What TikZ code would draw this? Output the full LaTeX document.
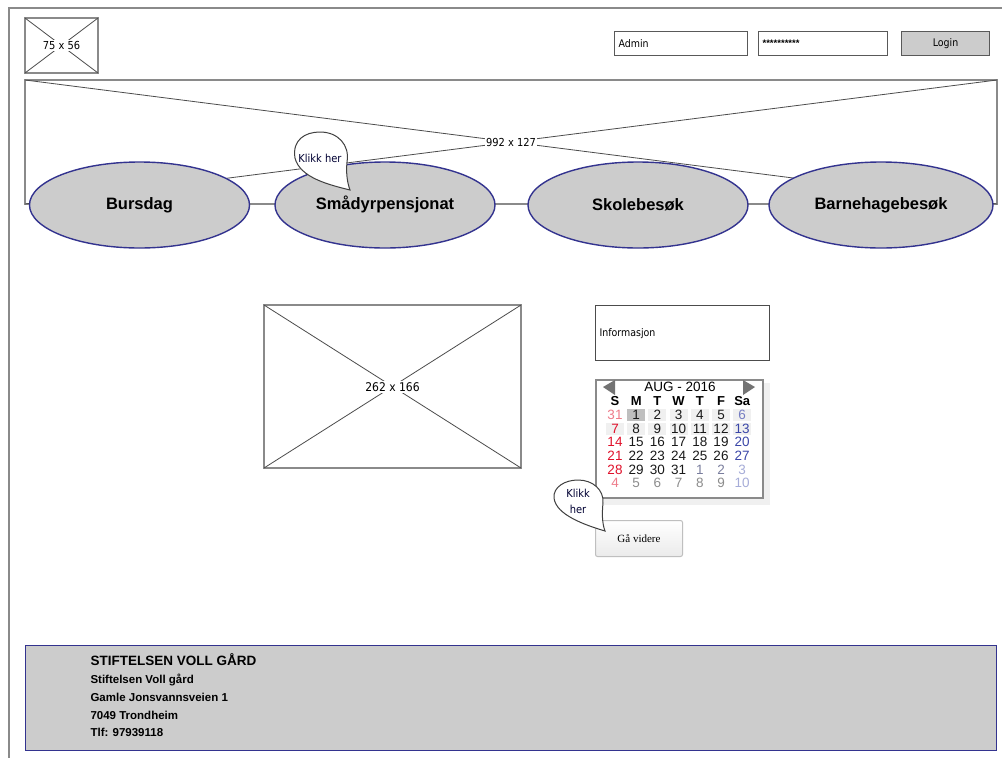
\documentclass[tikz,border=0pt]{standalone}
\usepackage{fontspec}
\usetikzlibrary{shapes.geometric}
\setmainfont{Liberation Sans}
\newfontfamily\serifface{Liberation Serif}
\newfontfamily\handface{DejaVu Sans Condensed}
\definecolor{frame}{HTML}{8A8A8A}
\definecolor{navy}{HTML}{33338F}
\definecolor{fillgray}{HTML}{CCCCCC}
\definecolor{sun}{HTML}{E0102A}
\definecolor{sat}{HTML}{3A46A8}
\begin{document}
\begin{tikzpicture}[x=1pt,y=-1pt,
  placeholder/.style={draw=frame, line width=1.2pt},
  xline/.style={draw=black!70, line width=0.8pt},
  dimlabel/.style={fill=white, inner sep=1pt, font=\handface\fontsize{11}{12}\selectfont},
  inputbox/.style={draw=black!65, line width=1.2pt, fill=white},
  menu/.style={ellipse, draw=navy, line width=1.4pt, fill=fillgray, inner sep=0pt,
    minimum width=220pt, minimum height=86pt, font=\bfseries\fontsize{16.5}{18}\selectfont},
  bubble/.style={draw=black!75, line width=1pt, fill=white},
  hint/.style={font=\handface\fontsize{11}{12}\selectfont, text=black!80!blue},
  calhead/.style={font=\bfseries\fontsize{13}{14}\selectfont, anchor=center},
  calday/.style={font=\fontsize{13.5}{14}\selectfont, anchor=center},
  footline/.style={anchor=west, font=\bfseries\fontsize{11.5}{12}\selectfont}]
\useasboundingbox (0,0) rectangle (1002,758);
\fill[white] (0,0) rectangle (1002,758);

% page frame
\draw[frame, line width=1.5pt] (9,770) -- (9,8) -- (1010,8);

% logo placeholder
\draw[placeholder] (25,18) rectangle (98,73);
\draw[xline] (25,18) -- (98,73) (98,18) -- (25,73);
\node[dimlabel] (logo) at (61.5,45.5) {75 x 56};

% login fields
\node[inputbox, minimum width=133pt, minimum height=24pt, anchor=north west,
  text width=125pt, align=left, font=\handface\fontsize{10.5}{12}\selectfont] (user) at (614,31) {Admin};
\node[inputbox, minimum width=129pt, minimum height=24pt, anchor=north west,
  text width=121pt, align=left, font=\bfseries\fontsize{9.5}{10}\selectfont] (pass) at (758,31) {**********};
\node[draw=black!65, line width=1.2pt, fill=fillgray, minimum width=88pt, minimum height=24pt,
  anchor=north west, font=\handface\fontsize{10.5}{12}\selectfont] (login) at (901,31) {Login};

% banner placeholder
\coordinate (bnw) at (25,80);
\coordinate (bne) at (997,80);
\coordinate (bsw) at (25,204);
\coordinate (bse) at (997,204);
\draw[placeholder] (bsw) -- (bnw) -- (bne) -- (bse) -- cycle;
\draw[xline] (bnw) -- (bse) (bne) -- (bsw);
\node[dimlabel] (banner) at (511,142) {992 x 127};

% menu buttons
\node[menu] (bursdag) at (139.5,205) {Bursdag};
\node[menu] (smaa) at (385,205) {\raisebox{5pt}{Smådyrpensjonat}};
\node[menu] (skole) at (638,205) {Skolebesøk};
\node[menu, minimum width=224pt] (barnehage) at (881,205) {Barnehagebesøk};

% hint bubble on the menu
\path[bubble] (350,190) .. controls (330,185) and (300,178) .. (295,158)
  .. controls (292,140) and (305,132) .. (320,132)
  .. controls (338,132) and (350,145) .. (347,162)
  .. controls (346,172) and (347,182) .. (350,190) -- cycle;
\node[hint] (hint1) at (320,158) {Klikk her};

% picture placeholder
\draw[placeholder] (264,305) rectangle (521,468);
\draw[xline] (264,305) -- (521,468) (521,305) -- (264,468);
\node[dimlabel, font=\handface\fontsize{12}{13}\selectfont] (pic) at (392.5,387) {262 x 166};

% information box
\node[draw=black!70, line width=1.2pt, minimum width=174pt, minimum height=55pt, anchor=north west,
  text width=166pt, align=left, font=\handface\fontsize{10.5}{12}\selectfont] (info) at (595,305) {Informasjon};

% calendar
\fill[black!12] (600,384) rectangle (768,503);
\fill[black!6] (599,383) rectangle (770,505);
\fill[white] (596,380) rectangle (763,498);
\foreach \c in {1,...,6} {\fill[black!6] ({615+21.2*\c-9},409) rectangle ({615+21.2*\c+9},421);}
\foreach \c in {0,...,6} {\fill[black!6] ({615+21.2*\c-9},423) rectangle ({615+21.2*\c+9},435);}
\fill[black!25] (627,409) rectangle (645,421);
\draw[frame, line width=2pt] (596,380) rectangle (763,498);
\fill[black!55] (603,387) -- (615,380) -- (615,395) -- cycle;
\fill[black!55] (755,387) -- (743,380) -- (743,395) -- cycle;
\node[font=\fontsize{13.5}{14}\selectfont] (month) at (680,387) {AUG - 2016};
\foreach \d [count=\i from 0] in {S,M,T,W,T,F,Sa}
  \node[calhead] at ({615+21.2*\i},401) {\d};
\foreach \r/\row in {0/{31,1,2,3,4,5,6},1/{7,8,9,10,11,12,13},2/{14,15,16,17,18,19,20},
    3/{21,22,23,24,25,26,27},4/{28,29,30,31,1,2,3},5/{4,5,6,7,8,9,10}} {
  \foreach \n [count=\i from 0] in \row {
    \pgfmathsetmacro{\cx}{615+21.2*\i}
    \pgfmathsetmacro{\cy}{415+13.6*\r}
    \def\col{black!90}
    \ifnum\i=0 \def\col{sun}\fi
    \ifnum\i=6 \def\col{sat}\fi
    \ifnum\r=0 \ifnum\i=0 \def\col{sun!55}\fi \ifnum\i=6 \def\col{sat!70}\fi \fi
    \ifnum\r=4 \ifnum\i>3 \def\col{black!45!sat!60}\fi \ifnum\i=6 \def\col{sat!45}\fi \fi
    \ifnum\r=5 \def\col{black!45}\ifnum\i=0 \def\col{sun!55}\fi \ifnum\i=6 \def\col{sat!45}\fi \fi
    \node[calday, text=\col] at (\cx,\cy) {\n};
  }
}

% continue button
\node[draw=black!25, line width=1pt, rounded corners=2pt, top color=white, bottom color=black!8,
  minimum width=87pt, minimum height=36pt, anchor=north west,
  font=\serifface\fontsize{11}{12}\selectfont] (next) at (595,520) {Gå videre};

% hint bubble on the button
\path[bubble] (605,531) .. controls (585,525) and (556,515) .. (554,498)
  .. controls (553,487) and (565,480) .. (578,480)
  .. controls (593,480) and (604,490) .. (603,503)
  .. controls (602,513) and (602,523) .. (605,531) -- cycle;
\node[hint, align=center, font=\handface\fontsize{11}{16}\selectfont] (hint2) at (578,501) {Klikk\\her};

% footer
\node[draw=navy, line width=1.4pt, fill=fillgray, minimum width=971pt, minimum height=105pt,
  anchor=north west] (footer) at (25,645) {};
\node[footline, font=\bfseries\fontsize{13.5}{14}\selectfont] (org) at (87,660) {STIFTELSEN VOLL GÅRD};
\node[footline] (name) at (87,680) {Stiftelsen Voll gård};
\node[footline] (street) at (87,697) {Gamle Jonsvannsveien 1};
\node[footline] (city) at (87,715) {7049 Trondheim};
\node[footline] (phone) at (87,732) {Tlf: 97939118};
\end{tikzpicture}
\end{document}
